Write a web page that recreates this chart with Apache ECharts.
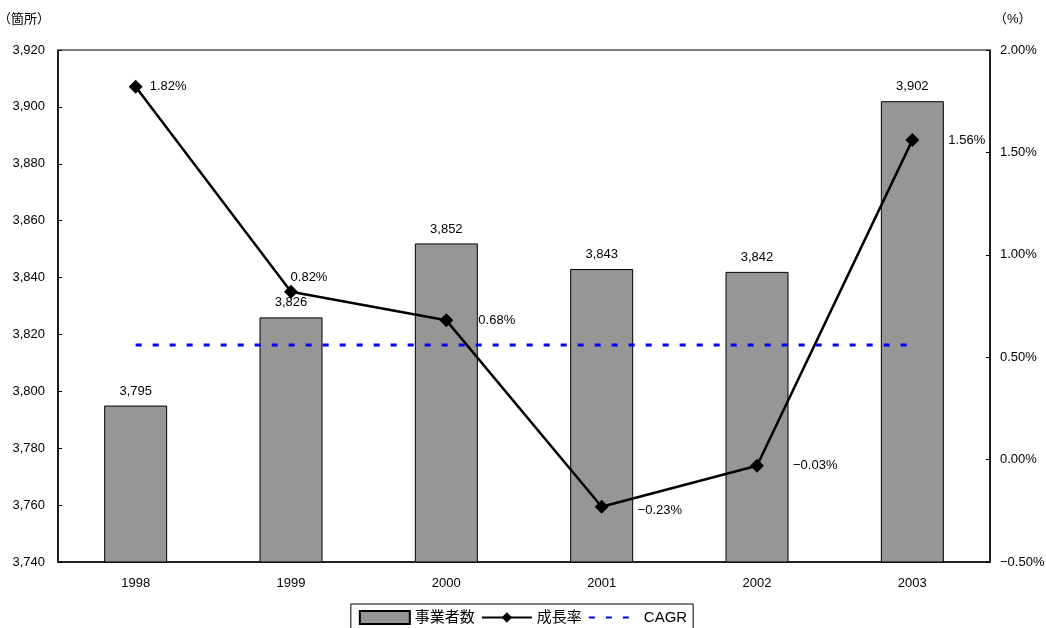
<!DOCTYPE html>
<html>
<head>
<meta charset="utf-8">
<script src="https://cdn.jsdelivr.net/npm/echarts@6/dist/echarts.min.js"></script>
<style>html,body{margin:0;padding:0;background:#fff}#c{width:1046px;height:628px}</style>
</head>
<body>
<div id="c"></div>
<script>
// Categories and values
const years = ['1998', '1999', '2000', '2001', '2002', '2003'];
const operators = [3795, 3826, 3852, 3843, 3842, 3902];
const growthRate = [1.82, 0.82, 0.68, -0.23, -0.03, 1.56];
const cagrValue = 0.56;
const cagrLine = years.map(() => cagrValue);
// label placement for each growth-rate point
const growthLabelPos = ['right', 'top', 'right', 'right', 'right', 'right'];
const growthLabelOffset = [[2, 0], [18, 4], [20, 0], [24, 4], [24, 0], [24, 0]];

const FONT = "'Liberation Sans', 'Noto Sans CJK JP', sans-serif";
const pct = v => (v < 0 ? '\u2212' : '') + Math.abs(v).toFixed(2) + '%';
const chart = echarts.init(document.getElementById('c'));

chart.setOption({
  animation: false,
  textStyle: { fontFamily: FONT, color: '#000' },
  grid: { left: 58, right: 56, top: 50, bottom: 66, show: true, borderColor: '#000', borderWidth: 1,
    containLabel: false, outerBoundsMode: 'none' },
  legend: {
    bottom: -4, left: 'center',
    borderColor: '#000', borderWidth: 1, padding: [6, 6, 7, 8],
    itemGap: 6, itemWidth: 50, itemHeight: 13,
    textStyle: { fontSize: 15, color: '#000', fontFamily: FONT },
    data: [
      { name: '事業者数', icon: 'rect' },
      { name: '成長率' },
      { name: 'CAGR', itemStyle: { opacity: 0 } }
    ]
  },
  xAxis: {
    type: 'category', data: years,
    axisLine: { onZero: false, lineStyle: { color: '#000', width: 1.5 } },
    axisTick: { inside: true, length: 5, lineStyle: { color: '#000' } },
    axisLabel: { color: '#000', fontSize: 13, margin: 15, fontFamily: FONT }
  },
  yAxis: [
    {
      type: 'value', min: 3740, max: 3920, interval: 20,
      name: '（箇所）', nameLocation: 'end', nameGap: 24,
      nameTextStyle: { color: '#000', fontSize: 13, align: 'left', padding: [0, 0, 0, -60] },
      axisLine: { show: true, lineStyle: { color: '#000', width: 1.5 } },
      axisTick: { show: true, inside: true, length: 4, lineStyle: { color: '#000' } },
      splitLine: { show: false },
      axisLabel: { color: '#000', fontSize: 13, margin: 13, fontFamily: FONT,
        formatter: v => v.toLocaleString('en-US') }
    },
    {
      type: 'value', min: -0.5, max: 2.0, interval: 0.5,
      name: '（%）', nameLocation: 'end', nameGap: 24,
      nameTextStyle: { color: '#000', fontSize: 13, align: 'left', padding: [0, 0, 0, 4] },
      axisLine: { show: true, lineStyle: { color: '#000', width: 1.5 } },
      axisTick: { show: true, inside: true, length: 4, lineStyle: { color: '#000' } },
      splitLine: { show: false },
      axisLabel: { color: '#000', fontSize: 13, margin: 10, fontFamily: FONT, formatter: pct }
    }
  ],
  series: [
    {
      name: '事業者数', type: 'bar', data: operators, barWidth: 63,
      itemStyle: { color: '#969696', borderColor: '#000', borderWidth: 1 },
      label: { show: true, position: 'top', distance: 8, color: '#000', fontSize: 13, fontFamily: FONT,
        formatter: p => p.value.toLocaleString('en-US') },
      z: 1
    },
    {
      name: '成長率', type: 'line', yAxisIndex: 1,
      data: growthRate.map((v, i) => ({
        value: v,
        label: { position: growthLabelPos[i], offset: growthLabelOffset[i] }
      })),
      symbol: 'diamond', symbolSize: 14,
      lineStyle: { color: '#000', width: 2.5 },
      itemStyle: { color: '#000' },
      label: { show: true, color: '#000', fontSize: 13, fontFamily: FONT,
        formatter: p => pct(p.value) },
      z: 4
    },
    {
      name: 'CAGR', type: 'line', yAxisIndex: 1, data: cagrLine,
      symbol: 'none',
      lineStyle: { color: '#0000FF', width: 3, type: [6, 11] },
      itemStyle: { color: '#0000FF' },
      z: 3
    }
  ]
});
</script>
</body>
</html>
